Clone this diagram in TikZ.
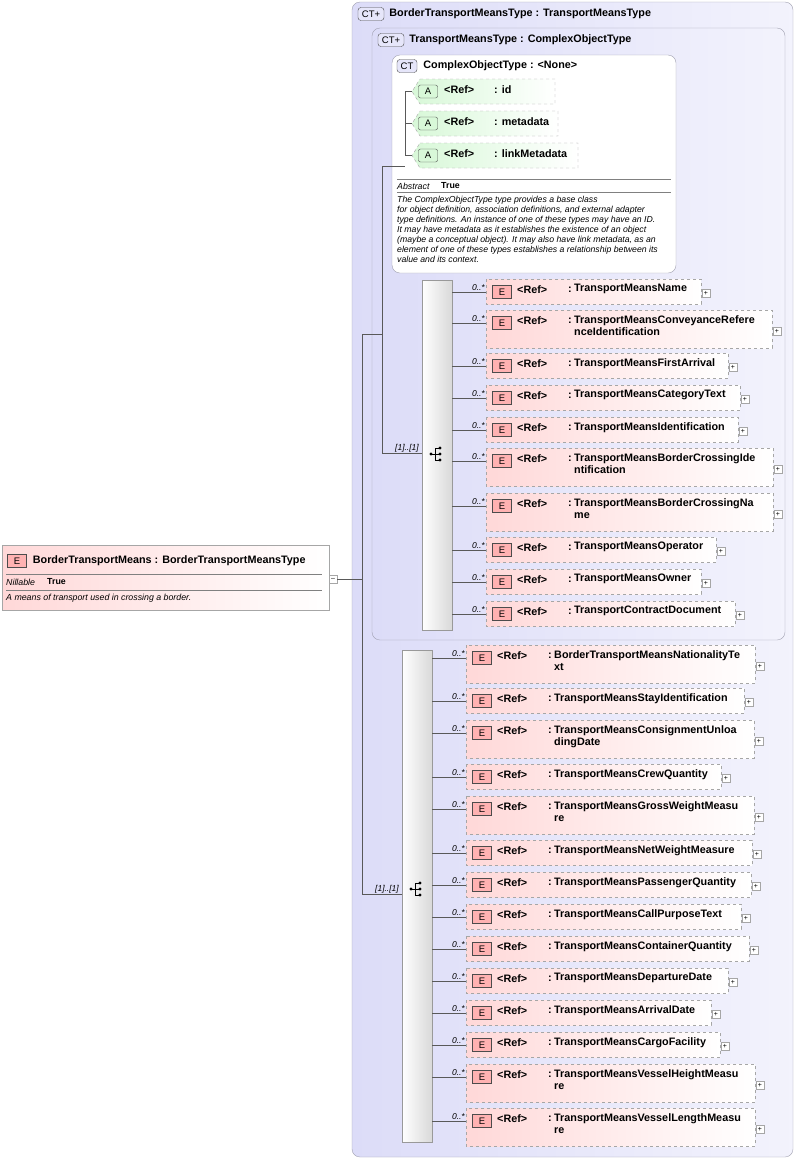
\documentclass[tikz,border=0pt]{standalone}
\usepackage{fontspec}
\setmainfont{Liberation Sans}
\usetikzlibrary{positioning}
\definecolor{ctfill}{HTML}{DCDCF8}
\definecolor{ctframe}{HTML}{A0A0B0}
\definecolor{elfill}{HTML}{FFD8D8}
\definecolor{atfill}{HTML}{D8F8D8}
\tikzset{
  px/.style={x=1pt,y=-1pt},
  ctbox/.style={draw=ctframe,rounded corners=8pt,left color=ctfill,right color=ctfill!35},
  cobox/.style={draw=ctframe,rounded corners=8pt,fill=white},
  elbox/.style={draw=gray!70,dashed,left color=elfill,right color=white},
  atbox/.style={draw=gray!70,dashed,left color=atfill,right color=white},
  seqbox/.style={draw=gray!80,left color=white,right color=gray!30},
  badge/.style={draw=gray!60!black,fill=#1,inner sep=0pt,minimum width=19pt,minimum height=13pt,font=\fontsize{9.5}{10}\selectfont},
  lbl/.style={anchor=west,inner sep=0pt,font=\fontsize{10.8}{12.5}\selectfont\bfseries},
  card/.style={anchor=south east,inner sep=1pt,font=\fontsize{8.5}{9}\selectfont\itshape},
  small/.style={anchor=west,inner sep=0pt,font=\fontsize{8.8}{10}\selectfont\itshape},
  smallb/.style={anchor=west,inner sep=0pt,font=\fontsize{8.8}{10}\selectfont\bfseries},
  note/.style={anchor=north west,inner sep=0pt,align=left,font=\fontsize{8.7}{10}\selectfont\itshape},
  conn/.style={draw=gray!70!black,line width=0.5pt},
  plusbox/.style={draw=gray!70,fill=white,minimum size=8pt,inner sep=0pt,font=\fontsize{7}{7}\selectfont},
}
% one referenced element: name, left x, top y, width, text, height
\newcommand{\refelem}[6]{%
  \path[elbox] (#2,#3) rectangle ++(#4,#6);
  \node[badge=red!30] (b#1) at (#2+16,#3+13) {E};
  \node[lbl] at (#2+31,#3+11) {<Ref>};
  \node[lbl] at (#2+82,#3+11) {:};
  \node[lbl,anchor=north west,align=left] at (#2+88,#3+5) {#5};
  \node[plusbox] at (#2+#4+5,#3+#6/2+2) {+};
  \coordinate (e#1) at (#2,#3+13);
}
\begin{document}
\begin{tikzpicture}[px]
  \path[fill=white] (0,0) rectangle (798,1160);

  %% nested complex types
  \path[ctbox] (352,2) rectangle (793,1157);
  \node[badge=ctfill!70,rounded corners=3pt,minimum width=26pt] (ct1) at (371,14) {CT+};
  \node[lbl,right=5pt of ct1] {BorderTransportMeansType : TransportMeansType};
  \path[ctbox] (372,28) rectangle (785,640);
  \node[badge=ctfill!70,rounded corners=3pt,minimum width=26pt] (ct2) at (391,40) {CT+};
  \node[lbl,right=5pt of ct2] {TransportMeansType : ComplexObjectType};
  \path[cobox] (392,55) rectangle (676,273);
  \node[badge=ctfill!70,rounded corners=3pt,minimum width=20pt] (ct3) at (407,66) {CT};
  \node[lbl,right=6pt of ct3] {ComplexObjectType : <None>};

  %% attributes
  \foreach \i/\y/\w/\t in {1/79/143/id, 2/111/146/metadata, 3/143/166/linkMetadata}{
    \path[atbox] (420,\y) -- (412+\w,\y) -- (412+\w,\y+25) -- (420,\y+25) -- (412,\y+12.5) -- cycle;
    \node[badge=atfill,rounded corners=2pt] (a\i) at (428,\y+12.5) {A};
    \node[lbl] at (444,\y+11) {<Ref>};
    \node[lbl] at (494,\y+11) {: \t};
    \coordinate (at\i) at (412,\y+12.5);
  }
  \draw[conn] (at1) -- ++(-7,0) |- (at3);
  \draw[conn] (at2) -- ++(-7,0);
  \draw[gray] (397,179) -- (671,179) (397,192) -- (671,192);
  \node[small] at (397,186) {Abstract};
  \node[smallb] at (441,186) {True};
  \node[note] at (397,196) {The ComplexObjectType type provides a base class\\for object definition, association definitions, and external adapter\\type definitions. An instance of one of these types may have an ID.\\It may have metadata as it establishes the existence of an object\\(maybe a conceptual object). It may also have link metadata, as an\\element of one of these types establishes a relationship between its\\value and its context.};

  %% main element
  \path[draw=gray!70,left color=elfill,right color=white] (2,545) rectangle (329,610);
  \node[badge=red!30] (be) at (17,561) {E};
  \node[lbl,right=6pt of be] {BorderTransportMeans : BorderTransportMeansType};
  \draw[gray] (6,574) -- (322,574) (6,590) -- (322,590);
  \node[small] at (6,582) {Nillable};
  \node[smallb] at (47,582) {True};
  \node[small] at (6,598) {A means of transport used in crossing a border.};
  \node[plusbox] (mn) at (333,579) {--};

  %% sequences
  \path[seqbox] (422,280) rectangle (452,630);
  \coordinate (sq1) at (437,454);
  \path[seqbox] (402,650) rectangle (432,1142);
  \coordinate (sq2) at (417,889);
  \foreach \s in {sq1,sq2}{
    \fill (\s) ++(-6,0) circle (1.6pt);
    \draw[thick] (\s) ++(-6,0) -- ++(4,0) ++(0,-6) -- ++(0,12)
      ++(0,-12) -- ++(4,0) ++(-4,6) -- ++(4,0) ++(-4,6) -- ++(4,0);
    \foreach \d in {-6,0,6} \fill (\s) ++(3,\d) circle (1.6pt);
  }

  \foreach \i/\y/\w/\h/\t in {
    1/279/215/25/TransportMeansName,
    2/310/286/38/{TransportMeansConveyanceRefere\\nceIdentification},
    3/353/242/25/TransportMeansFirstArrival,
    4/385/254/25/TransportMeansCategoryText,
    5/417/252/25/TransportMeansIdentification,
    6/448/287/38/{TransportMeansBorderCrossingIde\\ntification},
    7/493/287/38/{TransportMeansBorderCrossingNa\\me},
    8/537/230/25/TransportMeansOperator,
    9/569/215/25/TransportMeansOwner,
    10/601/249/25/TransportContractDocument}{
    \refelem{p\i}{486}{\y}{\w}{\t}{\h}
    \draw[conn] (452,0 |- ep\i) -- (ep\i);
    \node[card] at (ep\i) {0..*};
  }
  \foreach \i/\y/\w/\h/\t in {
    1/645/289/38/{BorderTransportMeansNationalityTe\\xt},
    2/688/278/25/TransportMeansStayIdentification,
    3/720/288/38/{TransportMeansConsignmentUnloa\\dingDate},
    4/764/255/25/TransportMeansCrewQuantity,
    5/796/288/38/{TransportMeansGrossWeightMeasu\\re},
    6/840/286/25/TransportMeansNetWeightMeasure,
    7/872/285/25/TransportMeansPassengerQuantity,
    8/904/275/25/TransportMeansCallPurposeText,
    9/936/283/25/TransportMeansContainerQuantity,
    10/968/262/25/TransportMeansDepartureDate,
    11/1000/245/25/TransportMeansArrivalDate,
    12/1032/254/25/TransportMeansCargoFacility,
    13/1064/289/38/{TransportMeansVesselHeightMeasu\\re},
    14/1108/289/38/{TransportMeansVesselLengthMeasu\\re}}{
    \refelem{q\i}{466}{\y}{\w}{\t}{\h}
    \draw[conn] (432,0 |- eq\i) -- (eq\i);
    \node[card] at (eq\i) {0..*};
  }

  %% trunk
  \coordinate (tr) at (362,579);
  \draw[conn] (mn.east) -- (tr);
  \draw[conn] (362,334) -- (362,894) -- (402,894);
  \draw[conn] (362,334) -- (382,334);
  \draw[conn] (382,166) -- (382,453) -- (422,453);
  \draw[conn] (382,166) -- (405,166);
  \node[card] at (420,453) {[1]..[1]};
  \node[card] at (400,894) {[1]..[1]};
\end{tikzpicture}
\end{document}
